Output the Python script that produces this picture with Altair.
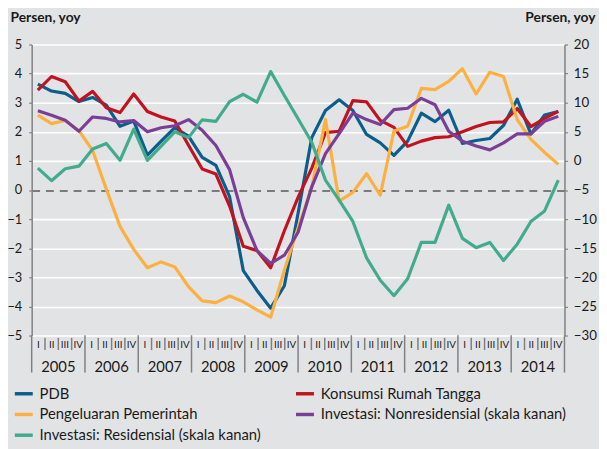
import altair as alt
import pandas as pd

# ---- data (quarterly, yoy %) ----
quarter_index = list(range(39))
pdb = [3.64, 3.40, 3.32, 3.04, 3.18, 2.92, 2.19, 2.37, 1.20, 1.68,
       2.14, 1.85, 1.12, 0.85, -0.23, -2.77, -3.45, -4.06, -3.29, -0.80,
       1.80, 2.73, 3.10, 2.73, 1.91, 1.62, 1.19, 1.68, 2.64, 2.35,
       2.74, 1.60, 1.70, 1.77, 2.22, 3.12, 1.92, 2.58, 2.70]
konsumsi = [3.43, 3.90, 3.72, 3.06, 3.39, 2.83, 2.66, 3.30, 2.70, 2.51,
            2.37, 1.54, 0.72, 0.55, -0.55, -1.93, -2.08, -2.67, -1.40, -0.25,
            0.75, 1.97, 2.02, 3.07, 3.03, 2.39, 2.15, 1.50, 1.68, 1.80,
            1.83, 2.00, 2.18, 2.32, 2.34, 2.80, 2.18, 2.46, 2.70]
pemerintah = [2.57, 2.28, 2.39, 2.04, 1.36, 0.03, -1.25, -2.04, -2.67, -2.47,
              -2.64, -3.32, -3.81, -3.87, -3.64, -3.84, -4.12, -4.37, -2.75, -1.30,
              0.10, 2.42, -0.38, -0.08, 0.56, -0.18, 2.03, 2.19, 3.49, 3.45,
              3.73, 4.17, 3.30, 4.05, 3.90, 2.42, 1.74, 1.29, 0.88]
nonres = [8.6, 7.85, 7.0, 5.1, 7.55, 7.3, 6.7, 6.95, 5.0, 5.7,
          6.05, 7.1, 5.25, 2.65, -1.5, -9.75, -15.4, -17.6, -16.2, -12.25,
          -4.45, 1.25, 4.7, 8.2, 7.1, 6.25, 8.8, 9.05, 10.75, 9.65,
          5.1, 3.4, 2.55, 1.9, 3.1, 4.65, 4.65, 6.8, 7.65]
resid = [-1.25, -3.4, -1.35, -0.9, 2.05, 3.0, 0.1, 5.45, 0.1, 2.55,
         5.0, 4.0, 7.05, 6.8, 10.2, 11.45, 10.1, 15.35, 11.25, 7.25,
         3.2, -3.3, -6.75, -10.4, -16.65, -20.5, -23.15, -20.25, -14.0, -14.0,
         -7.6, -13.3, -14.9, -14.0, -17.1, -14.3, -10.4, -8.6, -3.3]

years = list(range(2005, 2015))
roman = ["I", "II", "III", "IV"]

SERIES = ["PDB", "Konsumsi Rumah Tangga", "Pengeluaran Pemerintah",
          "Investasi: Nonresidensial (skala kanan)",
          "Investasi: Residensial (skala kanan)"]
COLORS = ["#0b5d8c", "#c1121f", "#fbb040", "#7b3e97", "#41ab8b"]

FONT = "Lato"
TXT = "#1a1a1a"
AX = "#808080"
BG = "#e2e3e5"

left_rows = []
for name, vals in zip(SERIES[:3], [pdb, konsumsi, pemerintah]):
    for i, v in zip(quarter_index, vals):
        left_rows.append({"i": i, "v": v, "series": name})
right_rows = []
for name, vals in zip(SERIES[3:], [nonres, resid]):
    for i, v in zip(quarter_index, vals):
        right_rows.append({"i": i, "v": v, "series": name})
left_df = pd.DataFrame(left_rows)
right_df = pd.DataFrame(right_rows)

qdf = pd.DataFrame({"q": list(range(40)), "roman": [roman[k % 4] for k in range(40)]})
bdf = pd.DataFrame({"b": list(range(41))})
ydf = pd.DataFrame({"year": years})

xdata = alt.X("i:Q", scale=alt.Scale(domain=[-0.45, 38.45], nice=False, zero=False), axis=None)
qscale = alt.Scale(domain=[0, 40], nice=False, zero=False)

legend = alt.Legend(orient="none", legendX=-19, legendY=343, columns=2, direction="horizontal",
                    columnPadding=27, rowPadding=2, symbolType="stroke",
                    symbolSize=330, symbolStrokeWidth=3.5, labelFontSize=15,
                    labelFont=FONT, labelColor=TXT, title=None, labelLimit=400,
                    labelOffset=5, padding=0)
color = alt.Color("series:N", scale=alt.Scale(domain=SERIES, range=COLORS), legend=legend)

left_lines = alt.Chart(left_df).mark_line(strokeWidth=3.2, strokeJoin="round").encode(
    x=xdata,
    y=alt.Y("v:Q", scale=alt.Scale(domain=[-5, 5], nice=False, zero=False),
            axis=alt.Axis(values=list(range(-5, 6)), title="Persen, yoy", titleAngle=0,
                          titleAlign="left", titleBaseline="alphabetic", titleX=-22, titleY=-23,
                          titleFont=FONT, titleFontSize=14, titleFontWeight="bold", titleColor=TXT,
                          grid=True,
                          gridColor={"condition": {"test": "datum.value === 0", "value": "#5a5a5a"}, "value": "#ffffff"},
                          gridDash={"condition": {"test": "datum.value === 0", "value": [8, 6]}, "value": []},
                          gridWidth=1.6,
                          domainColor=AX, domainWidth=1.5, tickColor=AX, tickWidth=1.2, tickSize=3,
                          labelPadding=7, labelFont=FONT, labelFontSize=13, labelColor=TXT)),
    color=color,
)

right_lines = alt.Chart(right_df).mark_line(strokeWidth=3.2, strokeJoin="round").encode(
    x=xdata,
    y=alt.Y("v:Q", scale=alt.Scale(domain=[-30, 20], nice=False, zero=False),
            axis=alt.Axis(orient="right", values=list(range(-30, 21, 5)), title="Persen, yoy",
                          titleAngle=0, titleAlign="right", titleBaseline="alphabetic",
                          titleX=31, titleY=-23, titleFont=FONT, titleFontSize=14,
                          titleFontWeight="bold", titleColor=TXT, grid=False,
                          domainColor=AX, domainWidth=1.5, tickColor=AX, tickWidth=1.2, tickSize=3,
                          labelPadding=6, labelFont=FONT, labelFontSize=13.5, labelColor=TXT)),
    color=color,
)

q_labels = alt.Chart(qdf).transform_calculate(qc="datum.q + 0.5").mark_text(
    font=FONT, fontSize=10, color=TXT, baseline="middle", align="center").encode(
    x=alt.X("qc:Q", scale=qscale, axis=None), y=alt.value(304.5), text="roman:N")

q_seps = alt.Chart(bdf).transform_filter("datum.b % 4 != 0").mark_rule(
    color=AX, strokeWidth=1.5).encode(
    x=alt.X("b:Q", scale=qscale, axis=None), y=alt.value(297.3), y2=alt.value(309.7))

y_seps = alt.Chart(bdf).transform_filter("datum.b % 4 == 0").mark_rule(
    color=AX, strokeWidth=1.5).encode(
    x=alt.X("b:Q", scale=qscale, axis=None), y=alt.value(294.7), y2=alt.value(332.5))

y_labels = alt.Chart(ydf).transform_calculate(yc="(datum.year - 2005) * 4 + 2").mark_text(
    font=FONT, fontSize=15, color=TXT, baseline="middle", align="center").encode(
    x=alt.X("yc:Q", scale=qscale, axis=None), y=alt.value(327), text="year:N")

chart = alt.layer(left_lines, right_lines, q_labels, q_seps, y_seps, y_labels).resolve_scale(
    y="independent", x="independent"
).properties(
    width=540, height=295,
    padding={"left": 24, "top": 34, "right": 35, "bottom": 112},
    autosize=alt.AutoSizeParams(type="none"),
).configure(background=BG).configure_view(strokeWidth=0)

chart.save("out.html", embed_options={"renderer": "svg", "actions": False})
